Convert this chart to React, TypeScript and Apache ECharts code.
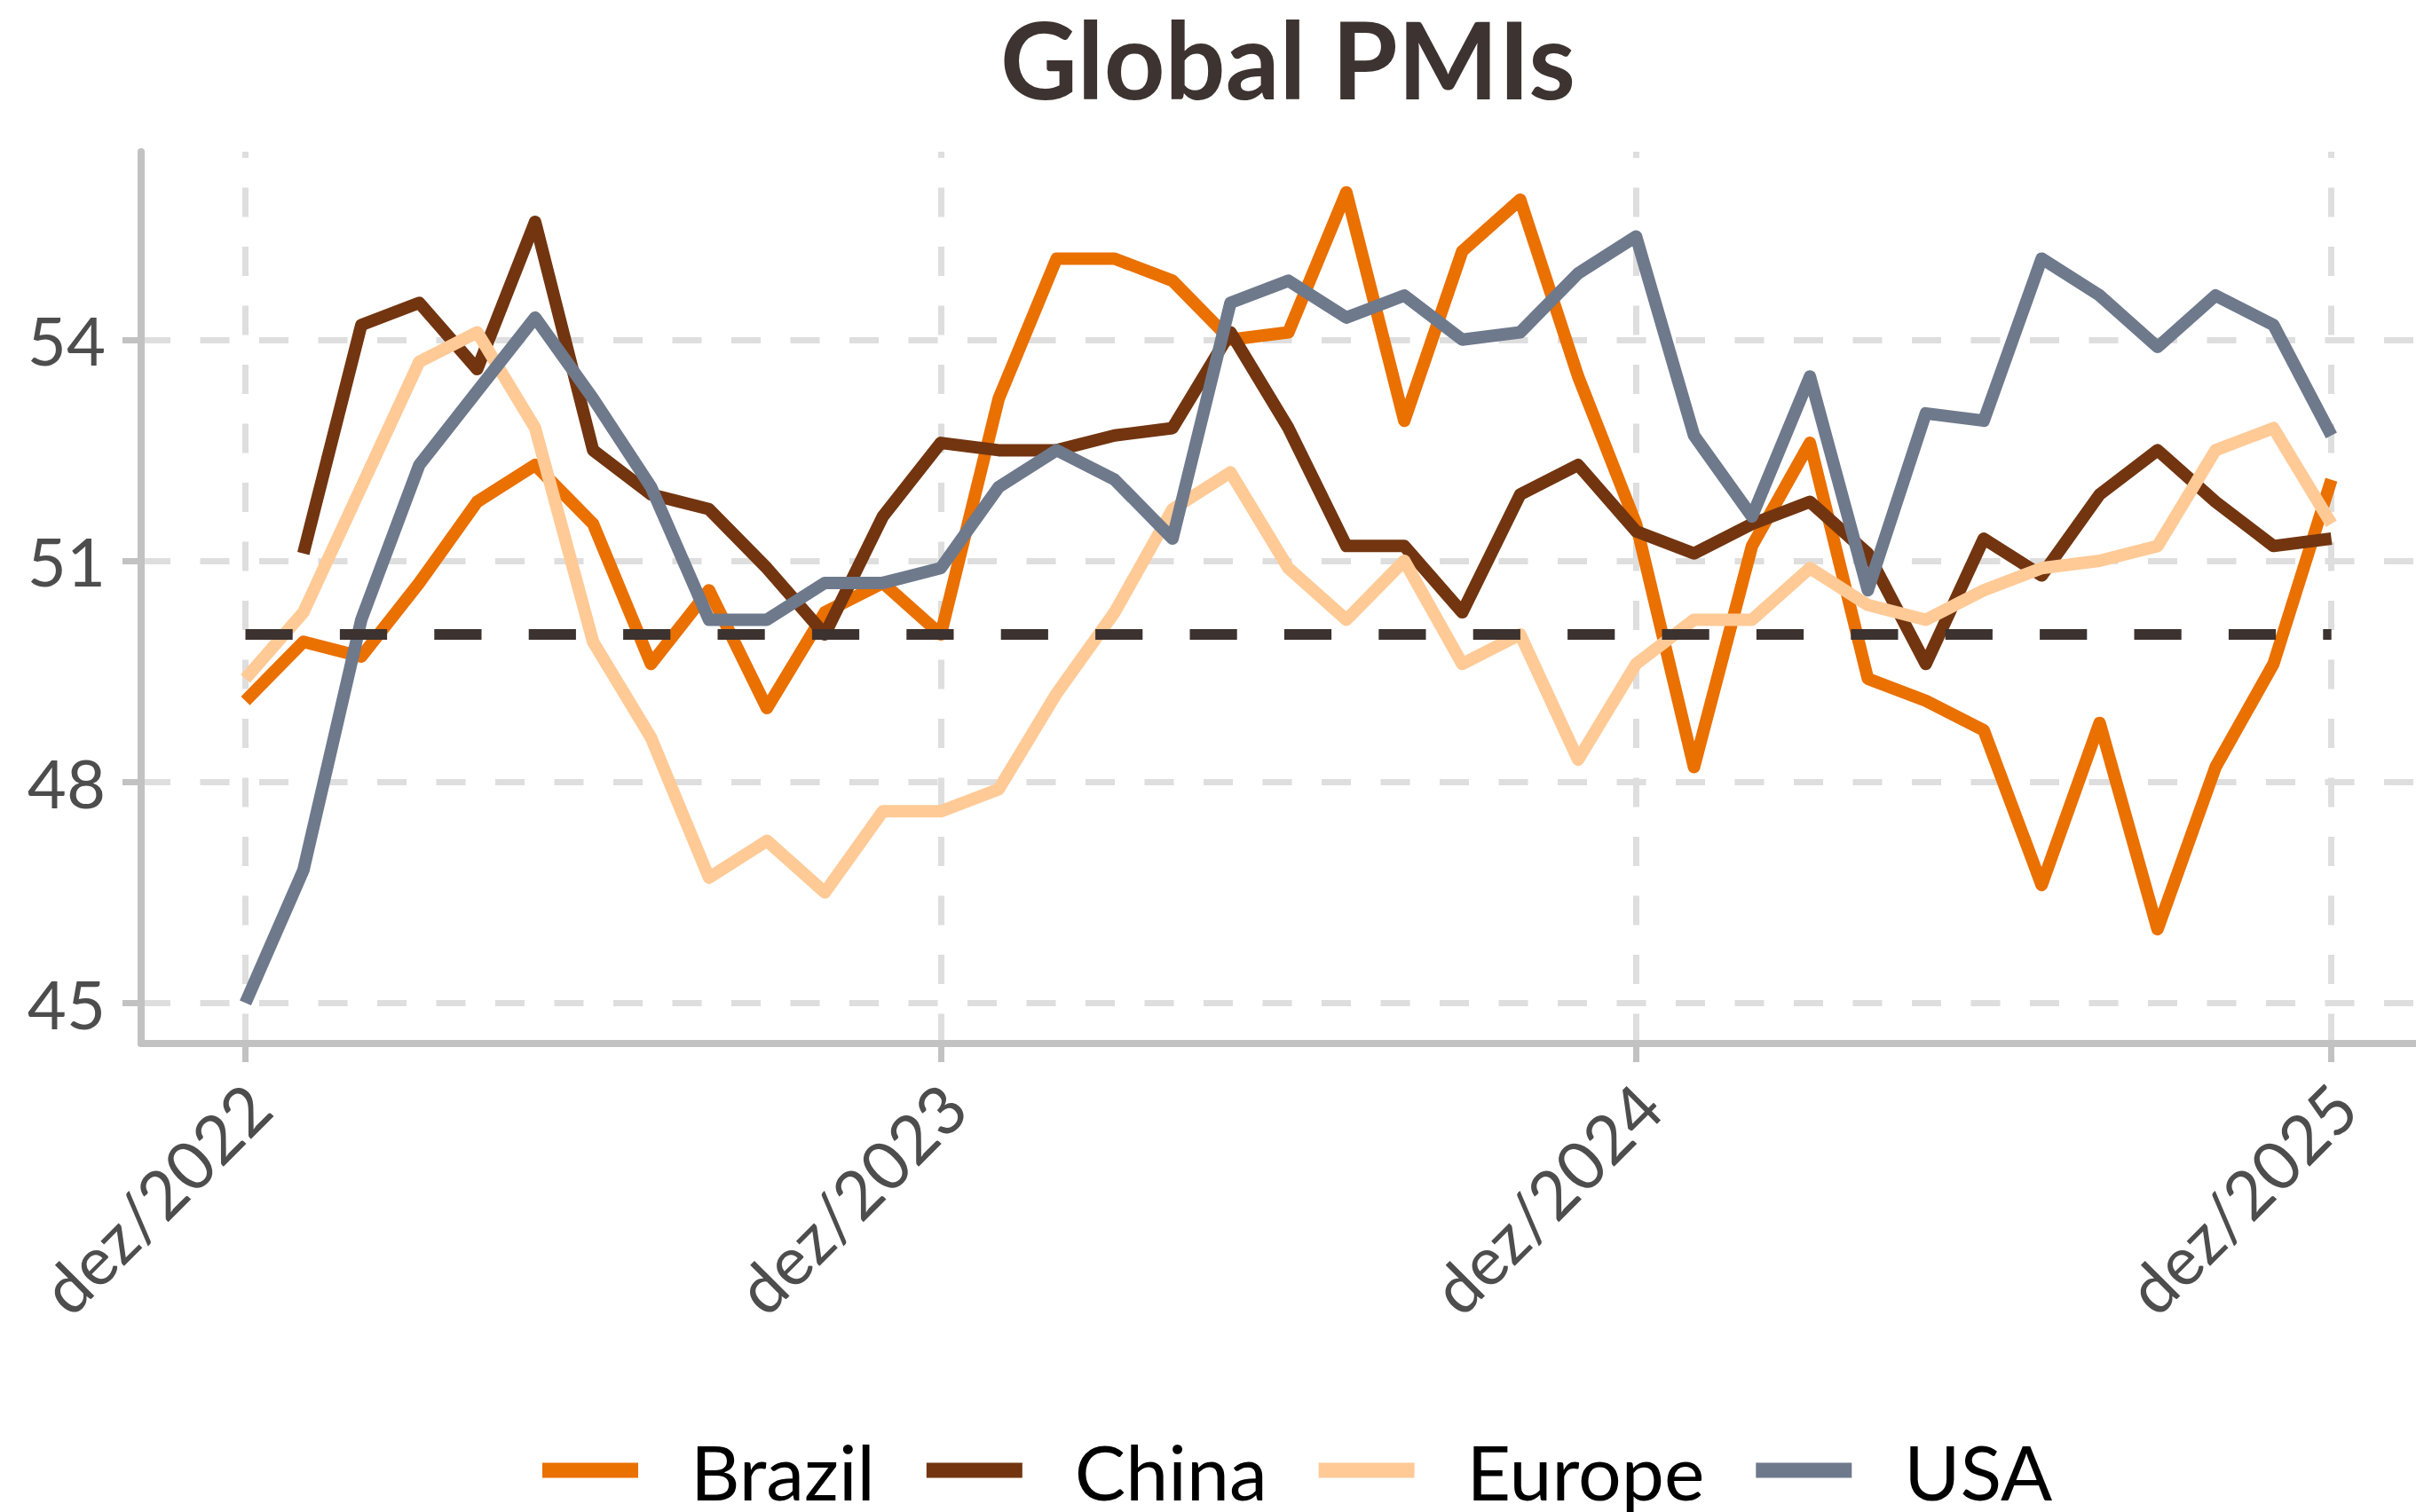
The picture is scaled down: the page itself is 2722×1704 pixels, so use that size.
import React, { useEffect, useRef } from 'react';
import * as echarts from 'echarts';

const categories = [
  'dez/2022', 'jan/2023', 'fev/2023', 'mar/2023', 'abr/2023', 'mai/2023', 'jun/2023',
  'jul/2023', 'ago/2023', 'set/2023', 'out/2023', 'nov/2023', 'dez/2023',
  'jan/2024', 'fev/2024', 'mar/2024', 'abr/2024', 'mai/2024', 'jun/2024',
  'jul/2024', 'ago/2024', 'set/2024', 'out/2024', 'nov/2024', 'dez/2024',
  'jan/2025', 'fev/2025', 'mar/2025', 'abr/2025', 'mai/2025', 'jun/2025',
  'jul/2025', 'ago/2025', 'set/2025', 'out/2025', 'nov/2025', 'dez/2025',
];

const xTickLabels = ['dez/2022', 'dez/2023', 'dez/2024', 'dez/2025'];
const yTicks = [45, 48, 51, 54];
const threshold = 50;

const brazil = [
  49.1, 49.9, 49.7, 50.7, 51.8, 52.3, 51.5, 49.6, 50.6, 49.0, 50.3, 50.7, 50.0,
  53.2, 55.1, 55.1, 54.8, 54.0, 54.1, 56.0, 52.9, 55.2, 55.9, 53.5, 51.5,
  48.2, 51.2, 52.6, 49.4, 49.1, 48.7, 46.6, 48.8, 46.0, 48.2, 49.6, 52.1,
];
const china = [
  null, 51.1, 54.2, 54.5, 53.6, 55.6, 52.5, 51.9, 51.7, 50.9, 50.0, 51.6, 52.6,
  52.5, 52.5, 52.7, 52.8, 54.1, 52.8, 51.2, 51.2, 50.3, 51.9, 52.3, 51.4,
  51.1, 51.5, 51.8, 51.1, 49.6, 51.3, 50.8, 51.9, 52.5, 51.8, 51.2, 51.3,
];
const europe = [
  49.4, 50.3, 52.0, 53.7, 54.1, 52.8, 49.9, 48.6, 46.7, 47.2, 46.5, 47.6, 47.6,
  47.9, 49.2, 50.3, 51.7, 52.2, 50.9, 50.2, 51.0, 49.6, 50.0, 48.3, 49.6,
  50.2, 50.2, 50.9, 50.4, 50.2, 50.6, 50.9, 51.0, 51.2, 52.5, 52.8, 51.5,
];
const usa = [
  45.0, 46.8, 50.2, 52.3, 53.3, 54.3, 53.2, 52.0, 50.2, 50.2, 50.7, 50.7, 50.9,
  52.0, 52.5, 52.1, 51.3, 54.5, 54.8, 54.3, 54.6, 54.0, 54.1, 54.9, 55.4,
  52.7, 51.6, 53.5, 50.6, 53.0, 52.9, 55.1, 54.6, 53.9, 54.6, 54.2, 52.7,
];

const seriesDefs = [
  { name: 'Brazil', data: brazil, color: '#EA7000' },
  { name: 'China', data: china, color: '#723510' },
  { name: 'Europe', data: europe, color: '#FFCA96' },
  { name: 'USA', data: usa, color: '#6E798C' },
];

export default function App() {
  const ref = useRef<HTMLDivElement>(null);

  useEffect(() => {
    const chart = echarts.init(ref.current as HTMLDivElement, null, { renderer: 'svg' });
    const xTickIdx = xTickLabels.map((l) => categories.indexOf(l));
    const toPts = (arr: (number | null)[]) =>
      arr.map((v, i) => [i, v]).filter((p) => p[1] !== null);

    const axisColor = '#c2c2c2';
    const gridColor = '#dedede';
    const labelFont = { fontFamily: 'Lato', fontSize: 76, color: '#4d4d4d' };

    const option: any = {
      animation: false,
      backgroundColor: '#ffffff',
      graphic: [
        {
          type: 'text',
          x: 1451,
          y: 66,
          style: {
            text: 'Global PMIs',
            fontFamily: 'Lato',
            fontWeight: 'bold',
            fontSize: 120,
            lineHeight: 130,
            fill: '#3d3331',
            align: 'center',
            verticalAlign: 'middle',
          },
        },
      ],
      legend: {
        data: seriesDefs.map((s) => s.name),
        left: 606,
        top: 1597,
        orient: 'horizontal',
        icon: 'rect',
        itemWidth: 108,
        itemHeight: 17,
        itemGap: 58,
        textStyle: {
          fontFamily: 'Lato',
          fontSize: 86,
          lineHeight: 110,
          color: '#000000',
          padding: [0, 0, 0, 54],
        },
      },
      grid: {
        left: 159,
        right: 0,
        top: 171,
        bottom: 528,
        containLabel: false,
        outerBoundsMode: 'none',
      },
      xAxis: {
        type: 'value',
        min: -1.8,
        max: 37.46,
        axisLine: { show: true, onZero: false, lineStyle: { color: axisColor, width: 8 } },
        axisTick: { show: true, length: 21, customValues: xTickIdx, lineStyle: { color: axisColor, width: 7 } },
        axisLabel: {
          customValues: xTickIdx,
          formatter: (v: number) => categories[Math.round(v)],
          rotate: 45,
          margin: 44,
          verticalAlign: 'top',
          lineHeight: 40,
          ...labelFont,
        },
        splitLine: {
          show: true,
          lineStyle: { color: gridColor, width: 7, type: [33, 33.5], dashOffset: 25.5 },
        },
      },
      yAxis: {
        type: 'value',
        min: 44.45,
        max: 56.55,
        axisLine: { show: true, onZero: false, lineStyle: { color: axisColor, width: 8 } },
        axisTick: { show: true, length: 21, customValues: yTicks, lineStyle: { color: axisColor, width: 7 } },
        axisLabel: { customValues: yTicks, margin: 40, ...labelFont },
        splitLine: { show: true, lineStyle: { color: gridColor, width: 7, type: [33, 33.5] } },
      },
      series: [
        ...seriesDefs.map((s) => ({
          name: s.name,
          type: 'line',
          data: toPts(s.data),
          showSymbol: false,
          symbol: 'none',
          z: 3,
          color: s.color,
          itemStyle: { color: s.color },
          lineStyle: { color: s.color, width: 14, join: 'round', cap: 'butt' },
          emphasis: { disabled: true },
        })),
        {
          name: 'threshold',
          type: 'line',
          data: [[0, threshold], [categories.length - 1, threshold]],
          symbol: 'none',
          z: 4,
          silent: true,
          lineStyle: { color: '#3c3230', width: 12, type: [53.2, 53.2], cap: 'butt' },
          emphasis: { disabled: true },
        },
      ],
    };

    chart.setOption(option);
    return () => chart.dispose();
  }, []);

  return (
    <div
      ref={ref}
      style={{ position: 'absolute', left: 0, top: 0, width: 2722, height: 1704, background: '#fff' }}
    />
  );
}
